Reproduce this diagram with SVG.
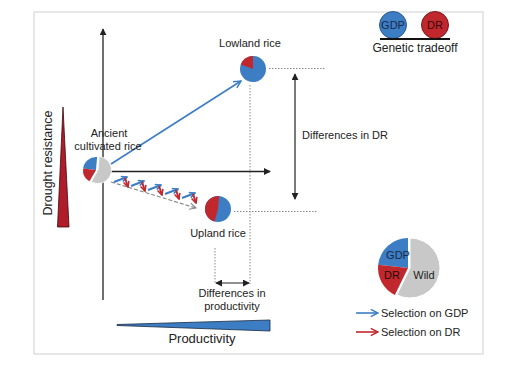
<svg xmlns="http://www.w3.org/2000/svg" width="528" height="368" viewBox="0 0 528 368">
<defs>
<style>
text{font-family:"Liberation Sans",Arial,sans-serif;fill:#222}
.t11{font-size:11px}
.ax{stroke:#222;stroke-width:1.3;fill:none}
.dot{stroke:#8a8a8a;stroke-width:1;stroke-dasharray:1.5 1.5;fill:none}
.blue{fill:#3c7dc4}
.red{fill:#c0282e}
.gray{fill:#c8c8c8}
.bl{stroke:#3c7dc4;stroke-width:1.6;fill:none}
.rl{stroke:#c0282e;stroke-width:1.6;fill:none}
.bs{stroke:#3c7dc4;stroke-width:2;fill:none}
.rs{stroke:#c0282e;stroke-width:2;fill:none}
</style>
<marker id="ah" viewBox="0 0 8 8" refX="7" refY="4" markerWidth="7" markerHeight="7" orient="auto-start-reverse" markerUnits="userSpaceOnUse">
<path d="M0,0 L8,4 L0,8 Z" fill="#222"/>
</marker>
<marker id="ab" viewBox="0 0 10 10" refX="9" refY="5" markerWidth="9" markerHeight="9" orient="auto" markerUnits="userSpaceOnUse">
<path d="M1,1 L9,5 L1,9" fill="none" stroke="#3c7dc4" stroke-width="1.6"/>
</marker>
<marker id="abs" viewBox="0 0 10 10" refX="9" refY="5" markerWidth="7" markerHeight="7" orient="auto" markerUnits="userSpaceOnUse">
<path d="M1,1 L9,5 L1,9" fill="none" stroke="#3c7dc4" stroke-width="2.2"/>
</marker>
<marker id="ars" viewBox="0 0 10 10" refX="9" refY="5" markerWidth="7" markerHeight="7" orient="auto" markerUnits="userSpaceOnUse">
<path d="M1,1 L9,5 L1,9" fill="none" stroke="#c0282e" stroke-width="2.2"/>
</marker>
<marker id="ar" viewBox="0 0 10 10" refX="9" refY="5" markerWidth="9" markerHeight="9" orient="auto" markerUnits="userSpaceOnUse">
<path d="M1,1 L9,5 L1,9" fill="none" stroke="#c0282e" stroke-width="1.6"/>
</marker>
<marker id="ag" viewBox="0 0 10 10" refX="9" refY="5" markerWidth="8" markerHeight="8" orient="auto" markerUnits="userSpaceOnUse">
<path d="M1,1 L9,5 L1,9" fill="none" stroke="#888" stroke-width="1.4"/>
</marker>
</defs>
<rect x="0" y="0" width="528" height="368" fill="#fff"/>
<rect x="34" y="12" width="449" height="342" fill="#fff" stroke="#cfcfcf" stroke-width="1"/>

<g id="axes">
<line class="ax" x1="103" y1="300" x2="103" y2="29" marker-end="url(#ah)"/>
<line class="ax" x1="97" y1="171.5" x2="270" y2="171.5" marker-end="url(#ah)"/>
</g>

<g id="drought-axis">
<polygon points="63,107 57.5,227 69,227" fill="#b01c2a" stroke="#3a0a0e" stroke-width="0.8"/>
<text transform="translate(52,163) rotate(-90)" text-anchor="middle" style="font-size:12.5px">Drought resistance</text>
</g>

<g id="productivity-axis">
<polygon points="117,324.5 270,320 270,331 117,325.5" fill="#3c7dc4" stroke="#1a2a40" stroke-width="0.8"/>
<text x="202" y="343" text-anchor="middle" style="font-size:13px">Productivity</text>
</g>

<g id="connectors">
<line class="bl" x1="111" y1="164" x2="241" y2="81" marker-end="url(#ab)"/>
<line x1="111" y1="182" x2="196" y2="208" stroke="#888" stroke-width="1.2" stroke-dasharray="4 2" marker-end="url(#ag)"/>
<g id="staircase">
<line class="bs" x1="114" y1="182" x2="127" y2="177" marker-end="url(#abs)"/>
<line class="rs" x1="125" y1="178" x2="128" y2="187" marker-end="url(#ars)"/>
<line class="bs" x1="131" y1="186" x2="144" y2="181" marker-end="url(#abs)"/>
<line class="rs" x1="142" y1="182" x2="145" y2="191" marker-end="url(#ars)"/>
<line class="bs" x1="148" y1="190" x2="161" y2="185" marker-end="url(#abs)"/>
<line class="rs" x1="159" y1="186" x2="162" y2="195" marker-end="url(#ars)"/>
<line class="bs" x1="165" y1="194" x2="178" y2="189" marker-end="url(#abs)"/>
<line class="rs" x1="176" y1="190" x2="179" y2="199" marker-end="url(#ars)"/>
<line class="bs" x1="182" y1="198" x2="195" y2="193" marker-end="url(#abs)"/>
<line class="rs" x1="193" y1="194" x2="196" y2="203" marker-end="url(#ars)"/>
</g>
<line class="dot" x1="269" y1="68.5" x2="325" y2="68.5"/>
<line class="dot" x1="250" y1="85" x2="250" y2="284"/>
<line class="dot" x1="234" y1="211.5" x2="318" y2="211.5"/>
<line class="dot" x1="215" y1="248" x2="215" y2="284"/>
<line class="ax" x1="295" y1="74" x2="295" y2="199" marker-start="url(#ah)" marker-end="url(#ah)" style="stroke-width:1.2"/>
<line class="ax" x1="216" y1="283" x2="249" y2="283" marker-start="url(#ah)" marker-end="url(#ah)" style="stroke-width:1.2"/>
</g>

<g id="ancient">
<path class="blue" d="M96,170 L83.1,168.4 A13,13 0 0 1 97.1,157.05 Z"/>
<path class="red" d="M96,170 L89.5,181.26 A13,13 0 0 1 83.1,168.4 Z"/>
<path class="gray" d="M98,170 L99.18,156.55 A13.5,13.5 0 1 1 91.25,181.69 Z" stroke="#fff" stroke-width="0.8"/>
<text class="t11" x="109" y="137" text-anchor="middle">Ancient</text>
<text class="t11" x="108" y="150" text-anchor="middle">cultivated rice</text>
</g>

<g id="lowland">
<circle class="blue" cx="253" cy="69" r="13"/>
<path class="red" d="M253,69 L240.78,64.55 A13,13 0 0 1 253,56 Z"/>
<text class="t11" x="250" y="47" text-anchor="middle">Lowland rice</text>
</g>

<g id="upland">
<circle class="blue" cx="218" cy="209" r="13"/>
<path class="red" d="M218,209 L214.64,221.56 A13,13 0 0 1 219.13,196.05 Z"/>
<text class="t11" x="218" y="237" text-anchor="middle">Upland rice</text>
</g>

<g id="diff-dr">
<text class="t11" x="302" y="139">Differences in DR</text>
</g>

<g id="diff-prod">
<text class="t11" x="232" y="297" text-anchor="middle">Differences in</text>
<text class="t11" x="232" y="310" text-anchor="middle">productivity</text>
</g>

<g id="tradeoff">
<circle cx="393" cy="25" r="13.5" fill="#3c7dc4" stroke="#2a5890" stroke-width="1"/>
<circle cx="435" cy="25" r="13.5" fill="#c0282e" stroke="#7a1a1e" stroke-width="1"/>
<text x="393" y="29" text-anchor="middle" style="font-size:11px;fill:#1a2a4a">GDP</text>
<text x="435" y="29" text-anchor="middle" style="font-size:11px;fill:#3a0a0a">DR</text>
<line x1="380" y1="39" x2="450" y2="39" stroke="#111" stroke-width="2"/>
<text x="415" y="52" text-anchor="middle" style="font-size:12px">Genetic tradeoff</text>
</g>

<g id="legend-pie">
<path class="blue" d="M408,268 L378.16,264.86 A30,30 0 0 1 408,238 Z"/>
<path class="red" d="M408,268 L394.85,294.96 A30,30 0 0 1 378.16,264.86 Z"/>
<path class="gray" d="M410,268 L410,238 A30,30 0 1 1 396.85,294.96 Z" stroke="#fff" stroke-width="1"/>
<text class="t11" x="398" y="259" text-anchor="middle" style="fill:#1a2a4a">GDP</text>
<text class="t11" x="392" y="279" text-anchor="middle" style="fill:#2a0a0a">DR</text>
<text class="t11" x="424" y="279" text-anchor="middle">Wild</text>
</g>

<g id="legend-arrows">
<line class="bl" x1="356" y1="313" x2="378" y2="313" marker-end="url(#ab)"/>
<text class="t11" x="381" y="317">Selection on GDP</text>
<line class="rl" x1="356" y1="332" x2="378" y2="332" marker-end="url(#ar)"/>
<text class="t11" x="381" y="336">Selection on DR</text>
</g>
</svg>
